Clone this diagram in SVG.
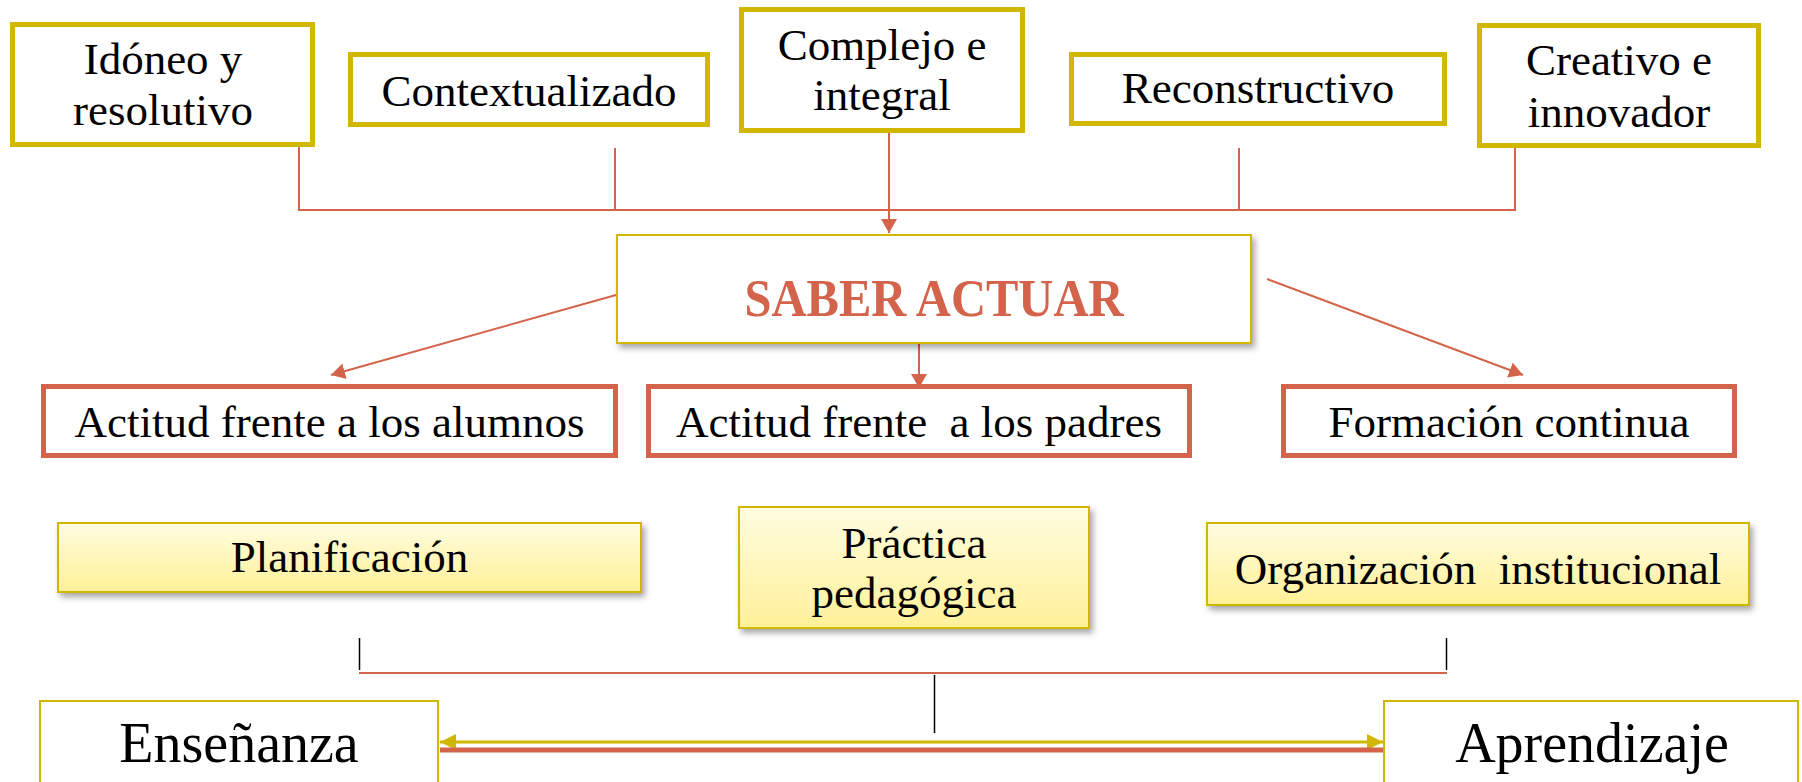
<svg xmlns="http://www.w3.org/2000/svg" width="1802" height="782" viewBox="0 0 1802 782">
<defs>
<style>
.t{font-family:"Liberation Serif","Times New Roman",serif;font-size:45px;fill:#000;text-anchor:middle;white-space:pre}
.big{font-size:56px}
.saber{font-family:"Liberation Serif","Times New Roman",serif;font-size:53px;font-weight:bold;fill:#D4634B;text-anchor:middle}
.gold{fill:#fff;stroke:#D2B700;stroke-width:5}
.red{fill:#fff;stroke:#D4634B;stroke-width:5}
.thin{fill:#fff;stroke:#D2B700;stroke-width:2}
.grad{fill:url(#yg);stroke:#D2B700;stroke-width:2}
.c{fill:none;stroke:#D4634B;stroke-width:2}
.k{fill:none;stroke:#000;stroke-width:1.5}
</style>
<linearGradient id="yg" x1="0" y1="0" x2="0" y2="1">
<stop offset="0" stop-color="#FFFCE0"/>
<stop offset="1" stop-color="#FFF198"/>
</linearGradient>
<filter id="sh" x="-10%" y="-10%" width="130%" height="140%">
<feDropShadow dx="3" dy="4" stdDeviation="3" flood-color="#000" flood-opacity="0.35"/>
</filter>
<marker id="ra" markerUnits="userSpaceOnUse" markerWidth="14" markerHeight="16" refX="14" refY="8" orient="auto">
<path d="M0,0 L14,8 L0,16 z" fill="#D4634B"/>
</marker>
<marker id="ga" markerUnits="userSpaceOnUse" markerWidth="16" markerHeight="16" refX="16" refY="8" orient="auto-start-reverse">
<path d="M0,0 L16,8 L0,16 z" fill="#D2B700"/>
</marker>
</defs>
<rect width="1802" height="782" fill="#fff"/>

<g id="connectors">
<polyline class="c" points="299,147 299,210 1515,210 1515,148"/>
<line class="c" x1="615" y1="148" x2="615" y2="210"/>
<line class="c" x1="1239" y1="148" x2="1239" y2="210"/>
<line class="c" x1="889" y1="133" x2="889" y2="233" stroke-width="3" marker-end="url(#ra)"/>
<line class="c" x1="616" y1="295" x2="331" y2="375" stroke-width="2.5" marker-end="url(#ra)"/>
<line class="c" x1="919" y1="340" x2="919" y2="388" stroke-width="2.5" marker-end="url(#ra)"/>
<line class="c" x1="1267" y1="279" x2="1523" y2="375" stroke-width="2.5" marker-end="url(#ra)"/>
<line class="k" x1="359.5" y1="638" x2="359.5" y2="670"/>
<line class="k" x1="1446.5" y1="638" x2="1446.5" y2="670"/>
<line class="c" x1="359" y1="673" x2="1447" y2="673" stroke-width="3"/>
<line class="k" x1="934.5" y1="675" x2="934.5" y2="733"/>
<line x1="440" y1="742" x2="1383" y2="742" stroke="#D2B700" stroke-width="3" marker-start="url(#ga)" marker-end="url(#ga)"/>
<line x1="440" y1="750" x2="1383" y2="750" stroke="#D4634B" stroke-width="5"/>
</g>

<g id="n-idoneo">
<rect class="gold" x="12.5" y="24.5" width="300" height="120"/>
<text class="t" x="163" y="74">Idóneo y</text>
<text class="t" x="163" y="125">resolutivo</text>
</g>
<g id="n-contextualizado">
<rect class="gold" x="350.5" y="54.5" width="357" height="70"/>
<text class="t" x="529" y="106">Contextualizado</text>
</g>
<g id="n-complejo">
<rect class="gold" x="741.5" y="9.5" width="281" height="121"/>
<text class="t" x="882" y="60">Complejo e</text>
<text class="t" x="882" y="110">integral</text>
</g>
<g id="n-reconstructivo">
<rect class="gold" x="1071.5" y="54.5" width="373" height="69"/>
<text class="t" x="1258" y="103">Reconstructivo</text>
</g>
<g id="n-creativo">
<rect class="gold" x="1479.5" y="25.5" width="279" height="120"/>
<text class="t" x="1619" y="75">Creativo e</text>
<text class="t" x="1619" y="127">innovador</text>
</g>

<g id="n-saber">
<rect class="thin" x="617" y="235" width="634" height="108" filter="url(#sh)"/>
<text class="saber" x="934" y="316" textLength="379" lengthAdjust="spacingAndGlyphs">SABER ACTUAR</text>
</g>

<g id="n-alumnos">
<rect class="red" x="43.5" y="386.5" width="572" height="69"/>
<text class="t" x="329.5" y="437">Actitud frente a los alumnos</text>
</g>
<g id="n-padres">
<rect class="red" x="648.5" y="386.5" width="541" height="69"/>
<text class="t" x="919" y="437">Actitud frente  a los padres</text>
</g>
<g id="n-formacion">
<rect class="red" x="1283.5" y="386.5" width="451" height="69"/>
<text class="t" x="1509" y="437">Formación continua</text>
</g>

<g id="n-planificacion">
<rect class="grad" x="58" y="523" width="583" height="69" filter="url(#sh)"/>
<text class="t" x="349.5" y="572">Planificación</text>
</g>
<g id="n-practica">
<rect class="grad" x="739" y="507" width="350" height="121" filter="url(#sh)"/>
<text class="t" x="914" y="558">Práctica</text>
<text class="t" x="914" y="608">pedagógica</text>
</g>
<g id="n-organizacion">
<rect class="grad" x="1207" y="523" width="542" height="82" filter="url(#sh)"/>
<text class="t" x="1478" y="584">Organización  institucional</text>
</g>

<g id="n-ensenanza">
<rect class="thin" x="40" y="701" width="398" height="100"/>
<text class="t big" x="239" y="762">Enseñanza</text>
</g>
<g id="n-aprendizaje">
<rect class="thin" x="1384" y="701" width="414" height="100"/>
<text class="t big" x="1592" y="762">Aprendizaje</text>
</g>
</svg>
